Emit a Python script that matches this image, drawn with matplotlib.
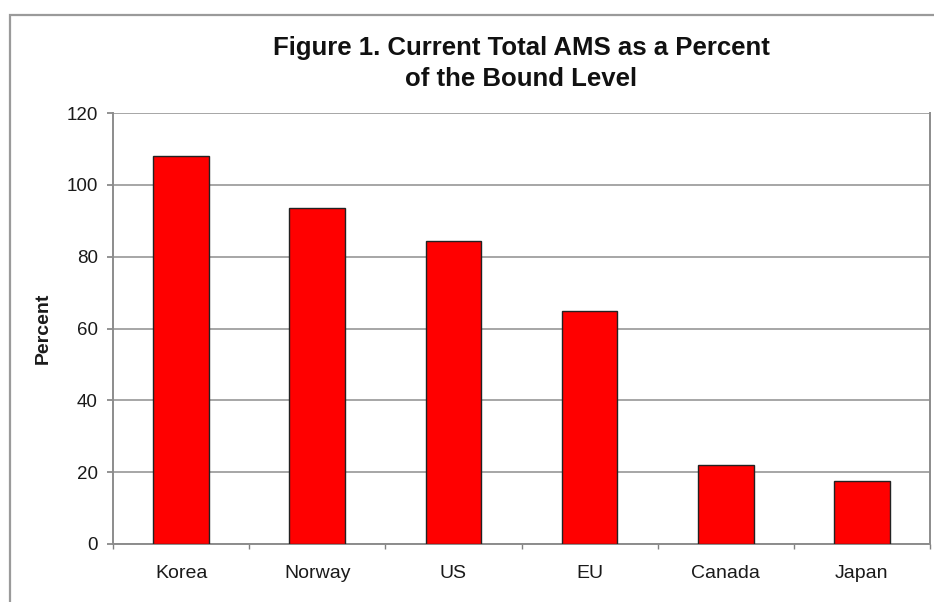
import matplotlib
matplotlib.use("Agg")
import matplotlib.pyplot as plt
from matplotlib.patches import Rectangle
import numpy as np

# AMS as a share of the bound level, by country
countries = ["Korea", "Norway", "US", "EU", "Canada", "Japan"]
percent = [108, 93.5, 84.5, 65, 22, 17.5]
yticks = [0, 20, 40, 60, 80, 100, 120]

plt.rcParams["font.family"] = ["Liberation Sans", "DejaVu Sans"]

fig = plt.figure(figsize=(9.34, 6.02), dpi=100)
W, H = 934, 602

# chart frame
fig.patches.append(Rectangle((10 / W, -0.05), 1.1, 1 - 15 / H + 0.05,
                             transform=fig.transFigure, fill=False,
                             edgecolor="#9a9a9a", linewidth=1.6))

ax = fig.add_axes([113 / W, 1 - 544 / H, (930 - 113) / W, (544 - 113) / H])

x = np.arange(len(countries))
ax.bar(x, percent, width=0.41, color="#ff0000", edgecolor="#222222",
       linewidth=1.0, zorder=3)

ax.set_xlim(-0.5, len(countries) - 0.5)
ax.set_ylim(0, 120)
ax.set_yticks(yticks)
ax.set_yticklabels([str(v) for v in yticks])
ax.set_xticks(x)
ax.set_xticklabels(countries)
ax.set_xticks(np.arange(len(countries) + 1) - 0.5, minor=True)

ax.yaxis.grid(True, color="#a6a6a6", linewidth=1.4, zorder=0)
ax.tick_params(axis="y", length=4, width=1.2, color="#808080",
               labelsize=13.5, pad=7, labelcolor="#1a1a1a")
ax.tick_params(axis="x", which="major", length=0, labelsize=14, pad=15,
               labelcolor="#1a1a1a")
ax.tick_params(axis="x", which="minor", length=3.5, width=1.0, color="#808080")

for side in ["left", "bottom", "right"]:
    ax.spines[side].set_color("#8c8c8c")
    ax.spines[side].set_linewidth(1.4)
ax.spines["top"].set_visible(False)

ax.set_ylabel("Percent", fontsize=14, fontweight="bold", color="#1a1a1a")
ax.yaxis.set_label_coords(-(113 - 52) / (930 - 113), 0.5)

fig.text(521 / W, 1 - 63.5 / H,
         "Figure 1. Current Total AMS as a Percent\nof the Bound Level",
         ha="center", va="center", fontsize=18.5, fontweight="bold",
         linespacing=1.4, color="#111111")

fig.savefig("out.png", dpi=100)
